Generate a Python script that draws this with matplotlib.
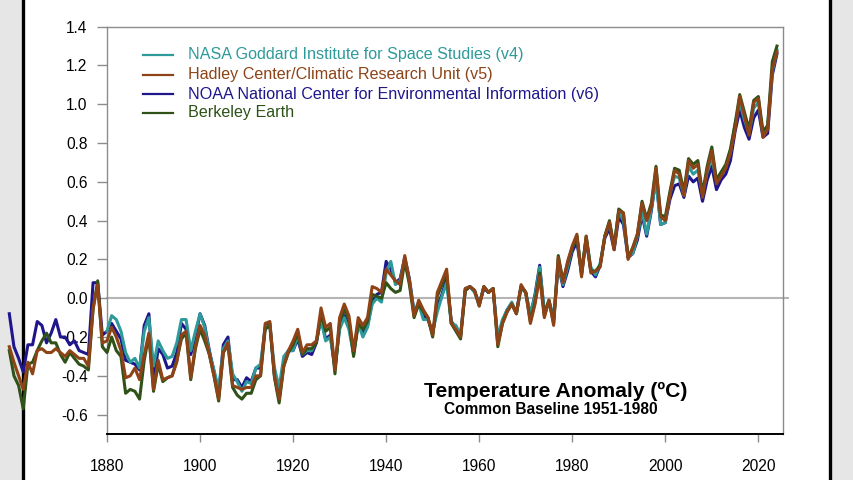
import numpy as np
import matplotlib.pyplot as plt
from matplotlib.lines import Line2D
from matplotlib.patches import Rectangle

plt.rcParams['font.family'] = ['Liberation Sans', 'DejaVu Sans']

# years drawn before the axis start (only three records go back that far)
early_years = np.arange(1859, 1880)
years = np.arange(1880, 2025)

# NASA GISTEMP v4, 1880-2024
nasa = [
    -0.17, -0.09, -0.11, -0.17, -0.28, -0.33, -0.31, -0.36, -0.17, -0.10,
    -0.35, -0.22, -0.27, -0.31, -0.30, -0.23, -0.11, -0.11, -0.27, -0.17,
    -0.08, -0.15, -0.28, -0.37, -0.47, -0.26, -0.22, -0.39, -0.43, -0.48,
    -0.43, -0.44, -0.36, -0.34, -0.15, -0.14, -0.36, -0.46, -0.30, -0.27,
    -0.27, -0.19, -0.29, -0.27, -0.27, -0.22, -0.11, -0.22, -0.20, -0.36,
    -0.16, -0.10, -0.16, -0.29, -0.13, -0.20, -0.15, -0.03, 0.00, -0.02,
    0.13, 0.19, 0.07, 0.09, 0.20, 0.09, -0.07, -0.03, -0.11, -0.11,
    -0.17, -0.07, 0.01, 0.08, -0.13, -0.14, -0.19, 0.05, 0.06, 0.03,
    -0.03, 0.06, 0.03, 0.05, -0.20, -0.11, -0.06, -0.02, -0.08, 0.05,
    0.03, -0.08, 0.01, 0.16, -0.07, -0.01, -0.10, 0.18, 0.07, 0.16,
    0.26, 0.32, 0.14, 0.31, 0.16, 0.12, 0.18, 0.32, 0.39, 0.27,
    0.45, 0.40, 0.22, 0.23, 0.32, 0.45, 0.33, 0.46, 0.61, 0.38,
    0.39, 0.54, 0.63, 0.62, 0.53, 0.68, 0.64, 0.66, 0.54, 0.65,
    0.72, 0.61, 0.65, 0.68, 0.75, 0.90, 1.01, 0.92, 0.85, 0.98,
    1.01, 0.85, 0.89, 1.17, 1.28,
]

# Hadley Centre / CRU HadCRUT5
hadley_early = [
    -0.25, -0.33, -0.40, -0.47, -0.33, -0.39, -0.27, -0.26, -0.28, -0.28,
    -0.26, -0.28, -0.30, -0.27, -0.29, -0.31, -0.31, -0.35, -0.05, 0.07,
    -0.23,
]
hadley = [
    -0.22, -0.15, -0.20, -0.27, -0.41, -0.40, -0.36, -0.42, -0.29, -0.18,
    -0.47, -0.32, -0.42, -0.41, -0.40, -0.33, -0.19, -0.17, -0.41, -0.25,
    -0.14, -0.19, -0.29, -0.40, -0.52, -0.28, -0.23, -0.45, -0.46, -0.47,
    -0.46, -0.46, -0.40, -0.40, -0.13, -0.12, -0.40, -0.52, -0.35, -0.27,
    -0.22, -0.16, -0.28, -0.24, -0.24, -0.22, -0.05, -0.15, -0.13, -0.37,
    -0.10, -0.03, -0.09, -0.27, -0.10, -0.14, -0.10, 0.06, 0.05, 0.03,
    0.15, 0.12, 0.09, 0.07, 0.22, 0.09, -0.09, -0.01, -0.06, -0.10,
    -0.19, 0.03, 0.09, 0.15, -0.13, -0.16, -0.20, 0.05, 0.06, 0.04,
    -0.04, 0.06, 0.03, 0.05, -0.24, -0.13, -0.07, -0.03, -0.08, 0.07,
    0.03, -0.13, -0.03, 0.11, -0.10, -0.01, -0.14, 0.21, 0.08, 0.19,
    0.27, 0.33, 0.11, 0.32, 0.13, 0.14, 0.16, 0.32, 0.39, 0.25,
    0.45, 0.44, 0.20, 0.26, 0.33, 0.49, 0.40, 0.47, 0.67, 0.42,
    0.40, 0.53, 0.66, 0.64, 0.53, 0.71, 0.67, 0.69, 0.52, 0.66,
    0.76, 0.59, 0.63, 0.67, 0.75, 0.87, 1.04, 0.94, 0.84, 1.01,
    1.03, 0.83, 0.87, 1.18, 1.27,
]

# NOAA NCEI NOAAGlobalTemp v6
noaa_early = [
    -0.08, -0.25, -0.31, -0.38, -0.24, -0.24, -0.12, -0.14, -0.23, -0.18,
    -0.11, -0.20, -0.20, -0.24, -0.22, -0.27, -0.28, -0.29, 0.08, 0.08,
    -0.19,
]
noaa = [
    -0.17, -0.13, -0.17, -0.21, -0.32, -0.33, -0.34, -0.37, -0.14, -0.08,
    -0.43, -0.26, -0.29, -0.36, -0.35, -0.28, -0.13, -0.16, -0.29, -0.20,
    -0.08, -0.14, -0.27, -0.38, -0.50, -0.24, -0.20, -0.42, -0.42, -0.46,
    -0.41, -0.43, -0.36, -0.36, -0.15, -0.13, -0.40, -0.52, -0.32, -0.27,
    -0.27, -0.21, -0.30, -0.28, -0.29, -0.23, -0.10, -0.21, -0.19, -0.36,
    -0.15, -0.09, -0.14, -0.28, -0.13, -0.18, -0.14, -0.02, 0.02, 0.03,
    0.19, 0.15, 0.08, 0.10, 0.21, 0.10, -0.07, -0.03, -0.09, -0.11,
    -0.18, -0.04, 0.02, 0.10, -0.12, -0.15, -0.19, 0.04, 0.06, 0.04,
    -0.03, 0.05, 0.03, 0.05, -0.22, -0.12, -0.06, -0.03, -0.07, 0.06,
    0.03, -0.09, 0.02, 0.17, -0.08, -0.02, -0.11, 0.17, 0.06, 0.14,
    0.24, 0.29, 0.13, 0.30, 0.14, 0.11, 0.17, 0.31, 0.36, 0.25,
    0.42, 0.38, 0.21, 0.23, 0.30, 0.43, 0.32, 0.45, 0.62, 0.38,
    0.39, 0.51, 0.58, 0.59, 0.52, 0.63, 0.60, 0.62, 0.50, 0.61,
    0.68, 0.56, 0.61, 0.64, 0.71, 0.86, 0.97, 0.88, 0.82, 0.93,
    0.97, 0.83, 0.85, 1.15, 1.26,
]

# Berkeley Earth
berkeley_early = [
    -0.27, -0.40, -0.45, -0.57, -0.34, -0.33, -0.27, -0.22, -0.18, -0.23,
    -0.23, -0.29, -0.33, -0.28, -0.31, -0.34, -0.35, -0.37, -0.06, 0.09,
    -0.25,
]
berkeley = [
    -0.28, -0.20, -0.27, -0.30, -0.49, -0.47, -0.48, -0.52, -0.32, -0.19,
    -0.48, -0.34, -0.43, -0.41, -0.40, -0.32, -0.21, -0.18, -0.42, -0.26,
    -0.16, -0.22, -0.29, -0.40, -0.53, -0.28, -0.24, -0.46, -0.50, -0.52,
    -0.49, -0.49, -0.42, -0.40, -0.16, -0.14, -0.41, -0.54, -0.35, -0.28,
    -0.24, -0.18, -0.29, -0.26, -0.26, -0.23, -0.08, -0.17, -0.15, -0.39,
    -0.12, -0.06, -0.11, -0.30, -0.13, -0.16, -0.12, 0.02, 0.01, 0.00,
    0.08, 0.05, 0.03, 0.04, 0.19, 0.07, -0.10, -0.03, -0.07, -0.10,
    -0.20, 0.01, 0.07, 0.13, -0.13, -0.17, -0.21, 0.04, 0.06, 0.04,
    -0.04, 0.06, 0.03, 0.05, -0.25, -0.13, -0.07, -0.03, -0.08, 0.06,
    0.03, -0.12, -0.02, 0.13, -0.09, -0.01, -0.13, 0.22, 0.09, 0.18,
    0.26, 0.32, 0.12, 0.32, 0.14, 0.14, 0.17, 0.32, 0.40, 0.26,
    0.46, 0.44, 0.21, 0.26, 0.33, 0.50, 0.41, 0.49, 0.68, 0.43,
    0.42, 0.55, 0.67, 0.66, 0.55, 0.72, 0.69, 0.71, 0.54, 0.68,
    0.78, 0.61, 0.65, 0.69, 0.77, 0.90, 1.05, 0.96, 0.87, 1.02,
    1.04, 0.86, 0.89, 1.22, 1.30,
]

labels = [
    'NASA Goddard Institute for Space Studies (v4)',
    'Hadley Center/Climatic Research Unit (v5)',
    'NOAA National Center for Environmental Information (v6)',
    'Berkeley Earth',
]
colors = ['#2e9a9a', '#8e4317', '#1f168c', '#2e5217']

W, H = 854, 480
fig = plt.figure(figsize=(W / 100, H / 100), dpi=100, facecolor='#e6e6e6')

# white page with black side edges
fig.add_artist(Rectangle((24 / W, 0), (830 - 24) / W, 1, transform=fig.transFigure,
                         facecolor='white', edgecolor='none', zorder=-3))
for xp in (23.5, 830.5):
    fig.add_artist(Line2D([xp / W, xp / W], [0, 1], transform=fig.transFigure,
                          color='black', lw=2.4, zorder=-2))

ax = fig.add_axes([107 / W, 46 / H, (783 - 107) / W, (453.3 - 46) / H])
ax.set_facecolor('none')

all_years = np.concatenate([early_years, years])
ax.plot(all_years, noaa_early + noaa, color=colors[2], lw=2.2, clip_on=False, zorder=3)
ax.plot(years, nasa, color=colors[0], lw=2.2, clip_on=False, zorder=4)
ax.plot(all_years, berkeley_early + berkeley, color=colors[3], lw=2.2, clip_on=False, zorder=5)
ax.plot(all_years, hadley_early + hadley, color=colors[1], lw=2.2, clip_on=False, zorder=6)

# zero reference line, runs a little past the right frame
ax.plot([1880, 2026.4], [0, 0], color='#b5b5b5', lw=1.5, clip_on=False, zorder=1)

ax.set_xlim(1880, 2025.3)
ax.set_ylim(-0.7, 1.4)

xt = list(range(1880, 2021, 20))
ax.set_xticks(xt)
ax.set_xticklabels([str(t) for t in xt])
yt = np.round(np.arange(-0.6, 1.41, 0.2), 1)
ax.set_yticks(yt)
ax.set_yticklabels([f'{v:.1f}' for v in yt])

for side in ('left', 'top', 'right'):
    ax.spines[side].set_color('#8c8c8c')
    ax.spines[side].set_linewidth(1.0)
ax.spines['bottom'].set_color('black')
ax.spines['bottom'].set_linewidth(1.4)

ax.tick_params(axis='x', length=6, width=1, color='#8c8c8c', pad=12, labelsize=11.2)
ax.tick_params(axis='y', length=7, width=1, color='#8c8c8c', pad=7, labelsize=11.2)

# legend drawn by hand, coloured text
rows = [55, 75, 94, 113]
for lab, col, yp in zip(labels, colors, rows):
    yf = (H - yp) / H
    fig.add_artist(Line2D([143 / W, 173 / W], [yf, yf], transform=fig.transFigure,
                          color=col, lw=1.6))
    fig.text(188 / W, yf, lab, color=col, fontsize=11.6, va='center', ha='left')

fig.text(556 / W, (H - 391) / H, 'Temperature Anomaly (ºC)', ha='center', va='center',
         fontsize=15.2, fontweight='bold')
fig.text(551 / W, (H - 409) / H, 'Common Baseline 1951-1980', ha='center', va='center',
         fontsize=11.2, fontweight='bold')

fig.savefig('out.png', dpi=100, facecolor=fig.get_facecolor())
